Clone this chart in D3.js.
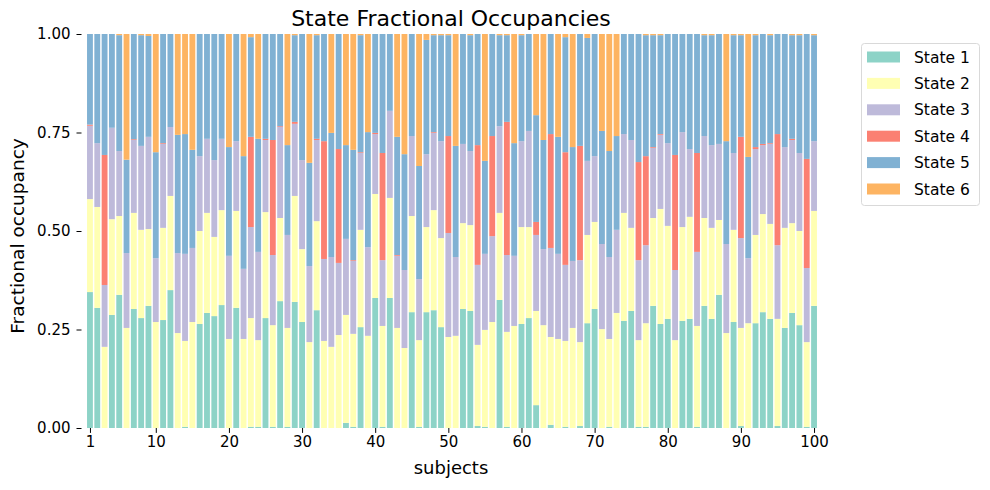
<!DOCTYPE html>
<html><head><meta charset="utf-8">
<script src="https://cdn.jsdelivr.net/npm/d3@7"></script>
<style>body{margin:0;background:#fff;}svg{display:block;font-family:"DejaVu Sans",sans-serif;}</style>
</head><body><div id="chart"></div>
<script>
const states = ["State 1","State 2","State 3","State 4","State 5","State 6"];
const colors = ["#8dd3c7","#ffffb3","#bebada","#fb8072","#80b1d3","#fdb462"];
const subjects = d3.range(1, 101);
const xTicks = [1,10,20,30,40,50,60,70,80,90,100];
const yTicks = [0,0.25,0.5,0.75,1.0];
// fractions per subject: [s1,s2,s3,s4,s5,s6]
const occupancy = [
[.345,.236,.186,.003,.230,0],[.305,.256,.162,0,.277,0],[0,.206,.157,.330,.307,0],[.287,.243,.232,0,.238,0],[.338,.200,.165,0,.294,.003],
[0,.254,.190,0,.237,.319],[.302,.244,.185,.002,.267,0],[.279,.224,.213,0,.281,.003],[.310,.195,.234,0,.256,.005],[0,.269,.162,0,.269,.300],
[.274,.234,.213,.002,.277,0],[.350,.239,.175,0,.236,0],[0,.241,.203,0,.300,.256],[.003,.218,.221,0,.304,.254],[0,.269,.188,0,.249,.294],
[.264,.236,.190,0,.310,0],[.292,.254,.188,0,.266,0],[.284,.201,.195,0,.320,0],[.312,.241,.181,0,.266,0],[0,.226,.211,0,.276,.287],
[.305,.246,.177,0,.272,0],[0,.226,.178,0,.286,.310],[.003,.276,.231,.229,.253,.008],[.003,.220,.224,0,.287,.266],[.279,.269,.183,.003,.266,0],
[.003,.258,.178,.292,.269,0],[.322,.211,.231,.002,.234,0],[.003,.251,.236,0,.228,.282],[.320,.269,.183,.005,.220,.003],[.269,.185,.226,0,.320,0],
[0,.218,.193,0,.262,.327],[.299,.226,.206,.003,.263,.003],[0,.221,.208,.299,.272,0],[0,.206,.228,0,.315,.251],[0,.236,.183,.289,.292,0],
[.013,.274,.193,0,.238,.282],[.003,.236,.185,.002,.280,.294],[.256,.247,.195,.002,.297,.003],[0,.234,.225,0,.292,.249],[.330,.264,.152,.003,.251,0],
[.003,.256,.167,.272,.302,0],[.330,.254,.221,0,.195,0],[0,.254,.183,.002,.300,.261],[0,.203,.198,0,.294,.305],[.294,.244,.203,0,.259,0],
[.003,.220,.155,0,.287,.335],[.294,.216,.185,0,.290,.015],[.299,.254,.196,.002,.246,.003],[.256,.226,.246,0,.269,.003],[0,.231,.264,.246,.256,.003],
[0,.234,.200,0,.282,.284],[.302,.218,.201,0,.279,0],[.297,.218,.188,0,.294,.003],[.005,.206,.203,.304,.282,0],[.003,.246,.193,0,.236,.322],
[0,.269,.218,.254,.259,0],[.325,.221,.220,0,.231,.003],[.003,.241,.195,.338,.220,.003],[0,.259,.178,0,.286,.277],[.264,.246,.218,0,.269,.003],
[.279,.231,.244,0,.246,0],[.058,.239,.193,.033,.271,.206],[0,.261,.193,0,.277,.269],[.008,.223,.226,.289,.254,0],[0,.226,.216,0,.297,.261],
[.003,.218,.193,.286,.292,.008],[0,.254,.170,0,.289,.287],[.005,.213,.208,.290,.284,0],[.266,.224,.188,0,.312,.010],[.302,.221,.167,0,.310,0],
[0,.251,.216,0,.287,.246],[.003,.223,.208,0,.269,.297],[0,.292,.211,0,.238,.259],[.272,.274,.200,0,.254,0],[.297,.211,.223,0,.269,0],
[.003,.220,.203,.249,.325,0],[.003,.263,.198,.226,.307,.003],[.310,.223,.178,.002,.284,.003],[.264,.292,.188,.002,.251,.003],[.277,.236,.210,0,.277,0],
[0,.223,.178,.292,.307,0],[.272,.238,.241,0,.249,0],[.277,.259,.172,0,.292,0],[.003,.256,.188,.251,.302,0],[.310,.223,.208,0,.256,.003],
[.277,.231,.210,0,.279,.003],[.338,.190,.193,0,.279,0],[0,.241,.226,0,.261,.272],[.269,.234,.195,0,.299,.003],[.005,.249,.228,.257,.258,.003],
[0,.266,.165,0,.257,.312],[.266,.224,.218,.005,.284,.003],[.294,.249,.175,.003,.279,0],[.277,.241,.203,.002,.274,.003],[.005,.272,.187,.282,.254,0],
[.254,.254,.205,0,.287,0],[.292,.228,.211,.003,.263,.003],[.261,.239,.198,0,.299,.003],[.003,.215,.188,.277,.317,0],[.310,.241,.177,0,.269,.003]
];

const W = 990, H = 490;
const svg = d3.select("#chart").append("svg").attr("width", W).attr("height", H);
const pLeft = 86.3, pRight = 817.7, pTop = 34, pBottom = 428;
const axisX = 81.5;
const x = d3.scaleLinear().domain([0.5, 100.5]).range([pLeft, pRight]);
const y = d3.scaleLinear().domain([0, 1]).range([pBottom, pTop]);
const bw = (x(1.4) - x(0.6));

const table = subjects.map((s, i) => {
  const o = {subject: s};
  states.forEach((k, j) => o[k] = occupancy[i][j]);
  return o;
});
const series = d3.stack().keys(states)(table);

svg.append("g").selectAll("g").data(series).join("g")
  .attr("fill", (d, i) => colors[i])
  .selectAll("rect").data(d => d).join("rect")
  .attr("x", d => x(d.data.subject) - bw / 2)
  .attr("width", bw)
  .attr("y", d => y(d[1]))
  .attr("height", d => Math.max(0, y(d[0]) - y(d[1])));

const yAxis = svg.append("g").attr("transform", `translate(${axisX},0)`)
  .call(d3.axisLeft(y).tickValues(yTicks).tickFormat(d3.format(".2f")).tickSize(5).tickPadding(6));
yAxis.select(".domain").remove();
yAxis.selectAll("text").attr("font-size", 15).attr("fill", "#000").attr("font-family", "DejaVu Sans");
yAxis.selectAll("line").attr("stroke", "#000").attr("stroke-width", 1);

const xAxis = svg.append("g").attr("transform", `translate(0,${pBottom})`)
  .call(d3.axisBottom(x).tickValues(xTicks).tickFormat(d3.format("d")).tickSize(4.9).tickPadding(3));
xAxis.select(".domain").remove();
xAxis.selectAll("text").attr("font-size", 15).attr("fill", "#000").attr("font-family", "DejaVu Sans");
xAxis.selectAll("line").attr("stroke", "#000").attr("stroke-width", 1);

svg.append("text").attr("x", 451).attr("y", 26).attr("text-anchor", "middle")
  .attr("font-size", 22).text("State Fractional Occupancies");
svg.append("text").attr("x", 451).attr("y", 474).attr("text-anchor", "middle")
  .attr("font-size", 18).text("subjects");
svg.append("text").attr("transform", `translate(24,236) rotate(-90)`)
  .attr("text-anchor", "middle").attr("font-size", 18.5).text("Fractional occupancy");

const lg = svg.append("g");
lg.append("rect").attr("x", 861.5).attr("y", 43.5).attr("width", 118).attr("height", 162)
  .attr("rx", 3).attr("fill", "#fff").attr("stroke", "#d9d9d9");
states.forEach((s, i) => {
  const cy = 57 + i * 26.4;
  lg.append("rect").attr("x", 867).attr("y", cy - 5.5).attr("width", 33).attr("height", 11).attr("fill", colors[i]);
  lg.append("text").attr("x", 914).attr("y", cy + 5.5).attr("font-size", 15.5).text(s);
});
</script></body></html>
